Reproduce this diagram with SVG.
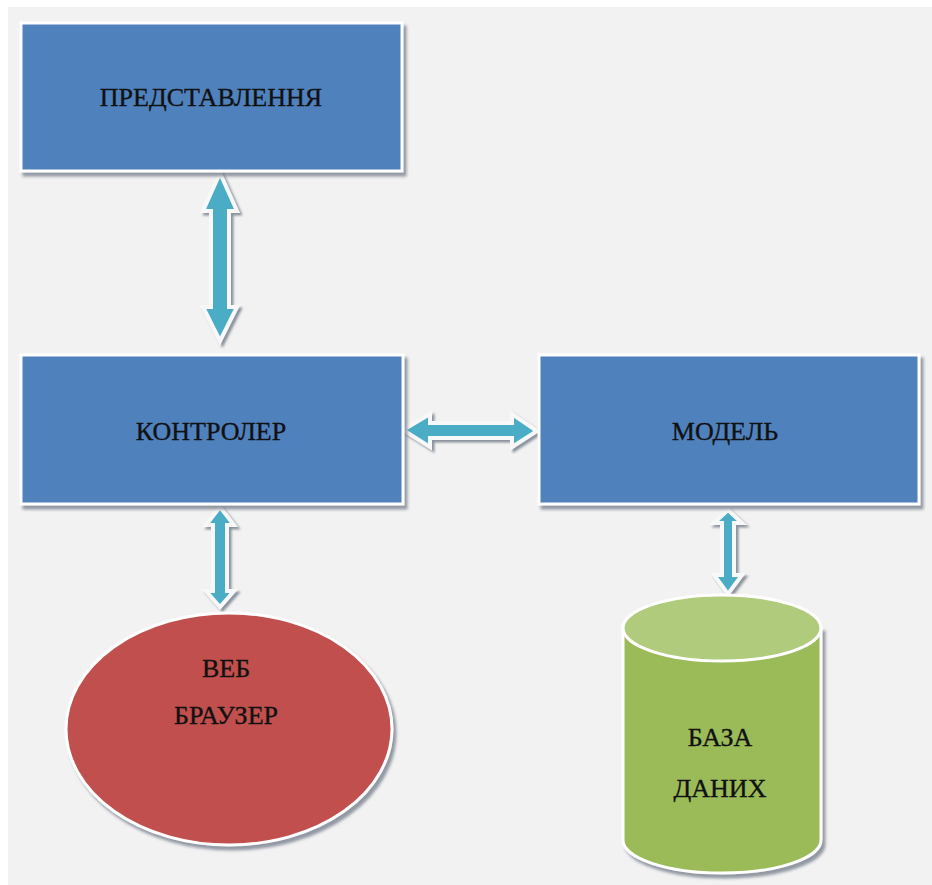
<svg xmlns="http://www.w3.org/2000/svg" width="932" height="885" viewBox="0 0 932 885">
<defs>
<filter id="sh" x="-10%" y="-10%" width="125%" height="130%">
<feDropShadow dx="3" dy="4" stdDeviation="1.5" flood-color="#6f7a88" flood-opacity="0.75"/>
</filter>
<filter id="ash" x="-30%" y="-10%" width="160%" height="130%">
<feDropShadow dx="2.5" dy="2.5" stdDeviation="0.8" flood-color="#6f7a88" flood-opacity="0.8"/>
</filter>
</defs>
<style>
.box{fill:#4f81bd;stroke:#ffffff;stroke-width:3;filter:url(#sh)}
.arrow{fill:#4bacc6;stroke:#f8f8f8;stroke-width:4;stroke-linejoin:miter;filter:url(#ash)}
.lbl{font-family:"Liberation Serif","Times New Roman",serif;font-size:26px;fill:#111111;stroke:#111111;stroke-width:0.35;text-anchor:middle}
</style>
<rect x="0" y="0" width="932" height="885" fill="#ffffff"/>
<rect x="8" y="7" width="924" height="878" fill="#f2f2f2"/>

<g id="connectors">
<path class="arrow" d="M220,173 L237,211 L229,211 L229,307 L237,307 L220,341 L203,307 L211,307 L211,211 L203,211 Z"/>
<path class="arrow" d="M403,430 L430,414 L430,423 L512,423 L512,414 L537,431 L512,447 L512,438 L430,438 L430,447 Z"/>
<path class="arrow" d="M220,507 L234,525 L227,525 L227,591 L234,591 L220,607 L206,591 L213,591 L213,525 L206,525 Z"/>
<path class="arrow" d="M728,510 L742,523 L734,523 L734,575 L742,575 L728,594 L714,575 L722,575 L722,523 L714,523 Z"/>
</g>

<g id="node-view">
<rect class="box" x="21" y="23" width="381" height="148"/>
<text class="lbl" x="211" y="106">ПРЕДСТАВЛЕННЯ</text>
</g>

<g id="node-controller">
<rect class="box" x="21" y="355" width="382" height="149"/>
<text class="lbl" x="211" y="440">КОНТРОЛЕР</text>
</g>

<g id="node-model">
<rect class="box" x="539" y="355" width="380" height="149"/>
<text class="lbl" x="725" y="440">МОДЕЛЬ</text>
</g>

<g id="node-browser">
<ellipse cx="229" cy="729" rx="163" ry="116" fill="#c0504d" stroke="#ffffff" stroke-width="3" filter="url(#sh)"/>
<text class="lbl" x="226" y="677">ВЕБ</text>
<text class="lbl" x="226" y="724">БРАУЗЕР</text>
</g>

<g id="node-database">
<path d="M623,628 L623,840 A99,33 0 0 0 821,840 L821,628 Z" fill="#9bbb59" stroke="#ffffff" stroke-width="3" filter="url(#sh)"/>
<ellipse cx="722" cy="628" rx="99" ry="33" fill="#b0cb7c" stroke="#ffffff" stroke-width="3"/>
<text class="lbl" x="720" y="746">БАЗА</text>
<text class="lbl" x="720" y="797">ДАНИХ</text>
</g>
</svg>
